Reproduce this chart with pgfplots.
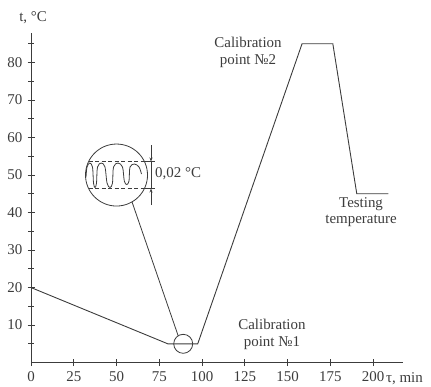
\documentclass[border=0pt]{standalone}
\usepackage{pgfplots}
\pgfplotsset{compat=1.18}
\usetikzlibrary{arrows.meta}
\usepackage{fontspec}
\setmainfont{Liberation Serif}
\definecolor{ink}{RGB}{60,60,60}
\begin{document}
\fontsize{15}{17}\selectfont
\begin{tikzpicture}[every node/.style={font=\fontsize{15}{17}\selectfont, text=ink}]
\begin{axis}[
  scale only axis, width=371.9bp, height=330bp,
  xmin=0, xmax=217.5, ymin=0, ymax=88,
  axis x line=bottom, axis y line=left,
  axis line style={-, ink, line width=0.8bp},
  xtick={0,25,...,200}, ytick={10,20,...,80}, minor ytick={5,15,...,85},
  tick align=center, major tick length=7bp, minor tick length=6bp,
  every tick/.style={ink, line width=0.8bp},
  minor tick style={ink, line width=0.8bp},
  clip=false,
  /pgf/number format/assume math mode=true,
  tick label style={font=\fontsize{15}{17}\selectfont, text=ink},
]
\addplot[ink, line width=0.9bp] coordinates {
  (0,20) (80,5) (97.5,5) (158.5,85) (176.5,85) (190.5,45) (209,45)
};
% small circle at calibration point 1
\draw[ink, line width=0.8bp] (axis cs:89,5) circle (9.5bp);
% leader line
\draw[ink, line width=0.8bp] ([shift={(-60:31bp)}]axis cs:50,50) -- ([shift={(122:9.5bp)}]axis cs:89,5);
% magnified inset
\begin{scope}[shift={(axis cs:50,50)}]
  \draw[ink, line width=0.8bp] (0bp,0bp) circle (31bp);
  \draw[ink, line width=0.7bp, dash pattern=on 4bp off 2.5bp] (-27.9bp,13.5bp) -- (27.9bp,13.5bp);
  \draw[ink, line width=0.7bp, dash pattern=on 4bp off 2.5bp] (-27.9bp,-13.5bp) -- (27.9bp,-13.5bp);
  \draw[ink, line width=0.7bp] (27.9bp,13.5bp) -- (38.5bp,13.5bp);
  \draw[ink, line width=0.7bp] (27.9bp,-13.5bp) -- (38.5bp,-13.5bp);
  \draw[ink, line width=0.7bp] (34.5bp,13.5bp) -- (34.5bp,-13.5bp);
  \draw[ink, line width=0.7bp, -{Stealth[length=4bp,width=3bp]}] (34.5bp,30bp) -- (34.5bp,13.5bp);
  \draw[ink, line width=0.7bp, -{Stealth[length=4bp,width=3bp]}] (34.5bp,-30bp) -- (34.5bp,-13.5bp);
  \draw[ink, line width=0.8bp] plot[smooth, tension=0.55] coordinates {
    (-30.5bp,-2bp) (-29.5bp,8bp) (-26.8bp,12bp) (-24bp,8bp) (-23bp,-8bp) (-21.5bp,-12.5bp) (-20bp,-8bp)
    (-19bp,8bp) (-15.2bp,12bp) (-11.5bp,8bp) (-9.5bp,-8bp) (-6.5bp,-12.5bp) (-4bp,-8bp)
    (-3bp,8bp) (1.5bp,12bp) (6bp,8bp) (7.8bp,-6bp) (10.2bp,-9.5bp) (12.5bp,-6bp)
    (13.5bp,8bp) (18bp,11bp) (22.5bp,8bp) (25bp,1bp)
  };
\end{scope}
\node[anchor=west, inner sep=0pt] at (axis cs:72.5,50.3) {0,02 °C};
\node[align=center, inner sep=0pt] at (axis cs:126.9,82.8) {Calibration\\point №2};
\node[align=center, inner sep=0pt] at (axis cs:140.9,7.6) {Calibration\\point №1};
\node[align=center, inner sep=0pt] at (axis cs:193,40.1) {Testing\\temperature};
\node[inner sep=0pt] at (axis cs:1.2,91.9) {t, °C};
\node[anchor=west, inner sep=0pt] at (axis cs:207.5,-4.4) {τ, min};
\path (axis cs:-18.13,-6.0) rectangle (axis cs:233.9,96.67);
\end{axis}
\end{tikzpicture}
\end{document}
